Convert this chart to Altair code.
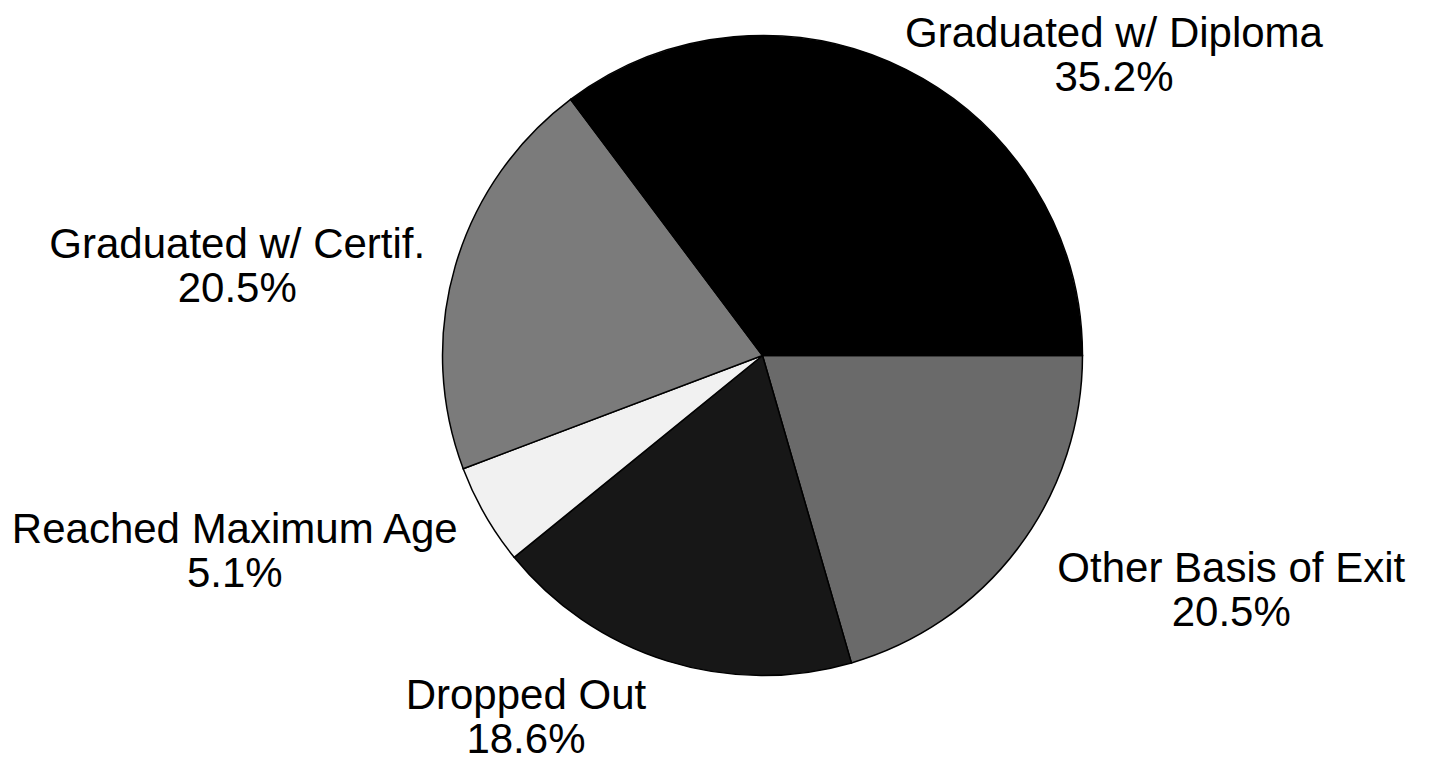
import math
import altair as alt
import pandas as pd

# ---- data ----
categories = ["Other Basis of Exit", "Dropped Out", "Reached Maximum Age",
              "Graduated w/ Certif.", "Graduated w/ Diploma"]
percent = [20.5, 18.6, 5.1, 20.5, 35.2]
pct_labels = ["20.5%", "18.6%", "5.1%", "20.5%", "35.2%"]

# ---- styles / layout ----
fills = ["#6a6a6a", "#171717", "#f1f1f1", "#7b7b7b", "#000000"]
CX, CY = 754.5, 347.5      # pie centre inside the view
R = 320                    # pie radius
LABEL_R = 370
LABEL_OFFSETS = {          # dx, dy from the slice's mid-angle anchor
    "Other Basis of Exit": (173, -9),
    "Dropped Out": (-126, -13),
    "Reached Maximum Age": (-207, -10),
    "Graduated w/ Certif.": (-170, -7),
    "Graduated w/ Diploma": (186, 9),
}

df = pd.DataFrame({
    "category": categories,
    "value": percent,
    "order": list(range(len(categories))),
    "pct": pct_labels,
})

total = sum(percent)
start = math.pi / 2
theta_scale = alt.Scale(domain=[0, total], range=[start, start + 2 * math.pi])

pie = alt.Chart(df).mark_arc(
    x=CX, y=CY, radius=R, stroke="black", strokeWidth=1.5
).encode(
    theta=alt.Theta("value:Q", stack=True, scale=theta_scale),
    color=alt.Color("category:N", scale=alt.Scale(domain=categories, range=fills), legend=None),
    order=alt.Order("order:Q", sort="ascending"),
)

base = alt.Chart(df).transform_window(
    cum="sum(value)",
    sort=[alt.SortField("order", order="ascending")],
    frame=[None, 0],
).transform_calculate(
    mid="datum.cum - datum.value / 2",
    label="datum.category + '\\n' + datum.pct",
)

texts = []
for cat, (dx, dy) in LABEL_OFFSETS.items():
    texts.append(
        base.transform_filter(alt.datum.category == cat).mark_text(
            x=CX, y=CY, radius=LABEL_R, dx=dx, dy=dy,
            font="Liberation Sans", fontSize=42, lineBreak="\n", lineHeight=44,
            align="center", baseline="middle", color="black",
        ).encode(
            theta=alt.Theta("mid:Q", scale=theta_scale),
            text="label:N",
        )
    )

chart = alt.layer(pie, *texts).properties(
    width=1419, height=751, padding=0, autosize="none"
).configure_view(stroke=None)

chart.save("out.html", embed_options={"renderer": "svg", "actions": False})
